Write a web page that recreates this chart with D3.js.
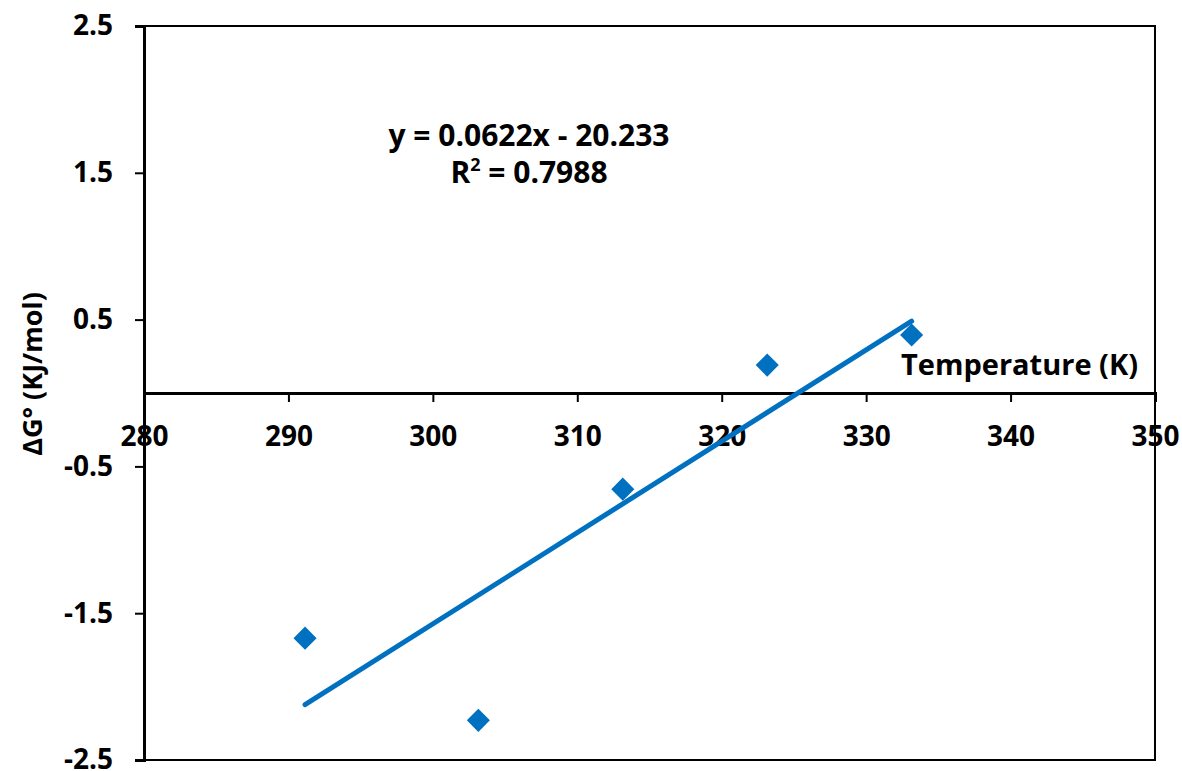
<!DOCTYPE html>
<html>
<head>
<meta charset="utf-8">
<script src="https://cdnjs.cloudflare.com/ajax/libs/d3/7.8.5/d3.min.js"></script>
<style>
  body { margin: 0; background: #fff; }
  text { font-family: "Open Sans", Lato, sans-serif; font-weight: bold; fill: #000; }
</style>
</head>
<body>
<svg width="1182" height="771"></svg>
<script>
var svg = d3.select("svg");

// data
var temps = [291.15, 303.15, 313.15, 323.15, 333.15];
var dG = [-1.67, -2.23, -0.655, 0.19, 0.395];
var xTicks = [280, 290, 300, 310, 320, 330, 340, 350];
var yTicks = [-2.5, -1.5, -0.5, 0.5, 1.5, 2.5];
var slope = 0.0622, intercept = -20.233;
var eqLabel = "y = 0.0622x - 20.233";
var r2Label = "0.7988";

var mLeft = 144, mRight = 1155, mTop = 26, mBottom = 760;
var fs = "28px";

var x = d3.scaleLinear().domain([280, 350]).range([mLeft, mRight]);
var y = d3.scaleLinear().domain([-2.5, 2.5]).range([mBottom, mTop]);

// frame
svg.append("rect")
  .attr("x", mLeft).attr("y", mTop)
  .attr("width", mRight - mLeft).attr("height", mBottom - mTop)
  .attr("fill", "none").attr("stroke", "#000").attr("stroke-width", 2);

// y axis (plain hyphen for minus, like the original)
var yAxis = svg.append("g")
  .attr("transform", "translate(" + mLeft + ",0)")
  .call(d3.axisLeft(y).tickValues(yTicks).tickSize(9).tickPadding(22)
    .tickFormat(function(d) { return d.toFixed(1); }));
yAxis.select(".domain").attr("stroke-width", 3);
yAxis.selectAll(".tick line").attr("stroke-width", 2);
yAxis.selectAll("text").style("font-size", fs).attr("fill", "#000");

// x axis at y = 0
var xAxis = svg.append("g")
  .attr("transform", "translate(0," + y(0) + ")")
  .call(d3.axisBottom(x).tickValues(xTicks).tickSize(9).tickPadding(24).tickFormat(d3.format("d")));
xAxis.select(".domain").attr("stroke-width", 3);
xAxis.selectAll(".tick line").attr("stroke-width", 2);
xAxis.selectAll("text").style("font-size", fs).attr("fill", "#000");

// trendline
var xs = d3.extent(temps);
svg.append("line")
  .attr("x1", x(xs[0])).attr("y1", y(slope * xs[0] + intercept))
  .attr("x2", x(xs[1])).attr("y2", y(slope * xs[1] + intercept))
  .attr("stroke", "#0070C0").attr("stroke-width", 5).attr("stroke-linecap", "round");

// points
svg.append("g").selectAll("path")
  .data(temps)
  .enter().append("path")
  .attr("d", d3.symbol().type(d3.symbolDiamond2).size(340))
  .attr("transform", function(d, i) { return "translate(" + x(d) + "," + y(dG[i]) + ")"; })
  .attr("fill", "#0070C0");

// equation
svg.append("text")
  .attr("x", 529).attr("y", 146)
  .attr("text-anchor", "middle")
  .style("font-size", "30px")
  .text(eqLabel);
var r2 = svg.append("text")
  .attr("x", 529).attr("y", 183)
  .attr("text-anchor", "middle")
  .style("font-size", "30px");
r2.append("tspan").text("R");
r2.append("tspan").attr("dy", -12).style("font-size", "18px").text("2");
r2.append("tspan").attr("dy", 12).text(" = " + r2Label);

// axis titles
svg.append("text")
  .attr("x", 1138).attr("y", 375)
  .attr("text-anchor", "end")
  .style("font-size", "29px")
  .text("Temperature (K)");

svg.append("text")
  .attr("transform", "translate(42,374) rotate(-90)")
  .attr("text-anchor", "middle")
  .style("font-size", "27px")
  .text("ΔG° (KJ/mol)");
</script>
</body>
</html>
